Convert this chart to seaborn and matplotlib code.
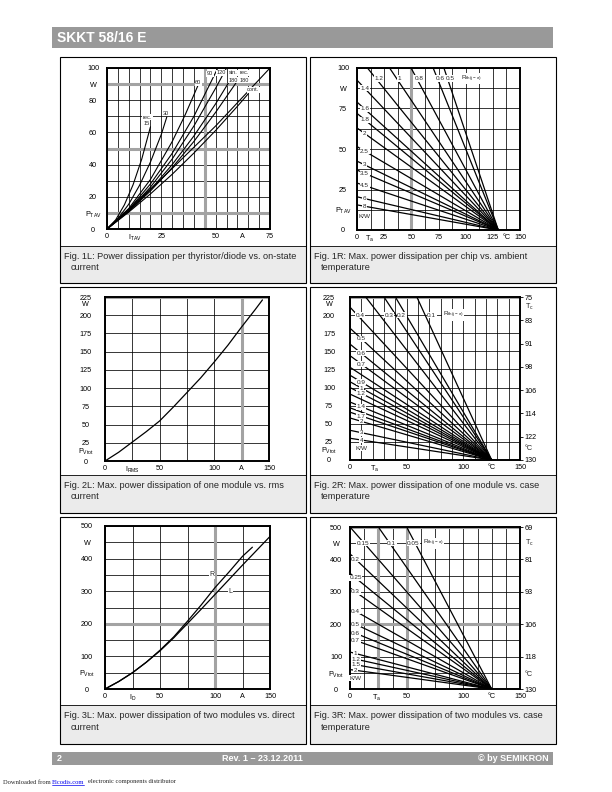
import matplotlib
matplotlib.use("Agg")
import matplotlib.pyplot as plt
from matplotlib.patches import Rectangle
import seaborn as sns

W_PX, H_PX = 612, 792

# ---------------- data ----------------
# Fig. 1L: P_TAV [W] vs I_TAV [A]
i_rec15 = [0, 4, 8, 12, 16, 20]
p_rec15 = [0, 5.7, 15, 27.5, 43.5, 63.5]
i_rec30 = [0, 5, 10, 15, 20, 25, 27.5]
p_rec30 = [0, 6.4, 15.4, 27.2, 41.6, 58.8, 69.5]
i_rec60 = [0, 10, 20, 30, 36, 42]
p_rec60 = [0, 12.7, 30.8, 54.3, 71, 89.6]
i_rec90 = [0, 10, 20, 30, 40, 51]
p_rec90 = [0, 12, 28, 47, 70, 100]
i_rec120 = [0, 10, 20, 30, 40, 50, 55]
p_rec120 = [0, 11.5, 26, 43.5, 64, 87.5, 100]
i_sin180 = [0, 10, 20, 30, 40, 50, 56]
p_sin180 = [0, 11.1, 24.4, 40, 57.8, 77.8, 91]
i_rec180 = [0, 10, 20, 30, 40, 50, 60]
p_rec180 = [0, 10.9, 23.6, 38.1, 54.4, 72.5, 92]
i_cont = [0, 10, 20, 30, 40, 50, 60, 65]
p_cont = [0, 10.5, 21.8, 34, 47.2, 61.2, 76.2, 84]
i_lim = [0, 25, 50, 75]
p_lim = [0, 31, 64, 100]

# Fig. 1R: straight lines from (0, P0) to (130 degC, 0)
rth_1r = ["0.5", "0.6", "0.8", "1", "1.2", "1.4", "1.6", "1.8", "2", "2.5", "3", "3.5", "4.5", "6", "8"]
p0_1r = [260, 217, 162, 130, 108, 92.5, 79, 72, 63, 51.5, 42.5, 37, 29, 20.5, 15.5]
tj_1r = 130

# Fig. 2L: P_Vtot vs I_RMS
i_2l = [0, 12.5, 25, 37.5, 50, 62.5, 75, 87.5, 100, 112.5, 125, 137.5, 144]
p_2l = [0, 12, 26, 40, 55, 74, 94, 114, 136, 159, 184, 208, 221]

# Fig. 2R: lines to (125 degC, 0)
p0_2r_steep = [253, 296, 331, 426]
rth_2r = ["0.4", "0.5", "0.6", "0.7", "", "0.9", "1", "1.2", "", "1.4", "", "1.7", "2", "3", "4"]
p0_2r = [211, 182, 160, 144, 128, 117, 108, 100, 91, 80, 72, 66, 58, 41, 30]
tj_2r = 125
tc_2r = ["130", "122", "114", "106", "98", "91", "83", "75"]

# Fig. 3L: P_Vtot vs I_D for R and L load
i_3l_r = [0, 12.5, 25, 37.5, 50, 62.5, 75, 87.5, 100, 112.5, 125, 134]
p_3l_r = [0, 23, 50, 82, 119, 160, 208, 258, 311, 358, 407, 435]
i_3l_l = [0, 12.5, 25, 37.5, 50, 62.5, 75, 87.5, 100, 112.5, 125, 137.5, 150]
p_3l_l = [0, 23, 50, 82, 117, 157, 201, 245, 290, 335, 380, 424, 468]

# Fig. 3R: lines to (125 degC, 0)
rth_3r = ["0.05", "0.1", "0.15", "0.2", "0.25", "0.3", "0.4", "0.5", "0.6", "0.7", "1", "1.2", "1.5", "2"]
p0_3r = [833, 625, 500, 417, 357, 312, 250, 208, 179, 156, 114, 96, 78, 60]
tj_3r = 125
tc_3r = ["130", "118", "106", "93", "81", "69"]

captions = [
    ("Fig. 1L: Power dissipation per thyristor/diode vs. on-state", "current"),
    ("Fig. 1R: Max. power dissipation per chip vs. ambient", "temperature"),
    ("Fig. 2L: Max. power dissipation of one module vs. rms", "current"),
    ("Fig. 2R: Max. power dissipation of one module vs. case", "temperature"),
    ("Fig. 3L: Max. power dissipation of two modules vs. direct", "current"),
    ("Fig. 3R: Max. power dissipation of two modules vs. case", "temperature"),
]

# ---------------- helpers ----------------
sns.set_theme(style="white")
plt.rcParams["font.family"] = ["Liberation Sans", "DejaVu Sans"]
plt.rcParams["mathtext.default"] = "regular"

GRAY = "#a3a3a3"
TXT = 5.2


def fx(x):
    return x / W_PX


def fy(y):
    return 1 - y / H_PX


def add_axes(fig, x0, y0, x1, y1):
    return fig.add_axes([fx(x0), fy(y1), (x1 - x0) / W_PX, (y1 - y0) / H_PX])


def style(ax, xlim, ylim, xgrid, ygrid, xt, xl, yt, yl, ypad, thick_x=(), thick_y=()):
    ax.set_xlim(*xlim)
    ax.set_ylim(*ylim)
    ax.xaxis.remove_overlapping_locs = False
    ax.yaxis.remove_overlapping_locs = False
    ax.set_xticks(xt)
    ax.set_xticklabels(xl)
    ax.set_yticks(yt)
    ax.set_yticklabels(yl)
    ax.set_xticks(xgrid, minor=True)
    ax.set_yticks(ygrid, minor=True)
    ax.grid(False)
    ax.grid(True, which="minor", color="black", lw=0.55)
    ax.set_axisbelow(True)
    ax.tick_params(which="both", length=0, labelsize=TXT, colors="black")
    ax.tick_params(axis="x", pad=3)
    ax.tick_params(axis="y", pad=ypad)
    for lab in ax.get_yticklabels():
        lab.set_horizontalalignment("center")
    for v in thick_x:
        ax.axvline(v, color=GRAY, lw=2.2, zorder=1)
    for v in thick_y:
        ax.axhline(v, color=GRAY, lw=2.2, zorder=1)
    for s in ax.spines.values():
        s.set_visible(True)
        s.set_linewidth(1.4)
        s.set_color("black")
    ax.set_xlabel("")
    ax.set_ylabel("")


def tag(ax, x, y, s, size=4.6, ha="center"):
    ax.text(x, y, s, fontsize=size, ha=ha, va="center", zorder=5,
            bbox=dict(facecolor="white", edgecolor="none", pad=0.4))


def line(ax, xs, ys, lw=0.9):
    sns.lineplot(x=xs, y=ys, ax=ax, color="black", linewidth=lw)


def right_axis(ax, pos, labels):
    ax2 = ax.twinx()
    ax2.set_ylim(ax.get_ylim())
    ax2.set_yticks(pos)
    ax2.set_yticklabels(labels)
    ax2.tick_params(axis="y", length=2, width=0.6, pad=1.5, labelsize=TXT, colors="black")
    ax2.grid(False)
    for s in ax2.spines.values():
        s.set_visible(False)
    return ax2


fig = plt.figure(figsize=(6.12, 7.92), dpi=100)
fig.patch.set_facecolor("white")

# header and footer bars
fig.add_artist(Rectangle((fx(52), fy(48)), fx(553) - fx(52), fy(27) - fy(48),
                         transform=fig.transFigure, facecolor="#999999", edgecolor="none"))
fig.text(fx(57), fy(37.5), "SKKT 58/16 E", color="white", fontsize=10, fontweight="bold",
         ha="left", va="center")
fig.add_artist(Rectangle((fx(52), fy(765)), fx(553) - fx(52), fy(752) - fy(765),
                         transform=fig.transFigure, facecolor="#999999", edgecolor="none"))
fig.text(fx(57), fy(758.5), "2", color="white", fontsize=6.5, fontweight="bold", va="center")
fig.text(fx(262), fy(758.5), "Rev. 1 \u2013 23.12.2011", color="white", fontsize=6.5,
         fontweight="bold", ha="center", va="center")
fig.text(fx(549), fy(758.5), "\u00a9 by SEMIKRON", color="white", fontsize=6.5,
         fontweight="bold", ha="right", va="center")
fig.text(fx(3), fy(782), "Downloaded from", fontsize=4.7, family="Liberation Serif",
         va="center")
fig.text(fx(52), fy(782), "Elcodis.com", fontsize=4.7, family="Liberation Serif", va="center",
         color="#0000ee")
fig.add_artist(plt.Line2D([fx(52), fx(84)], [fy(785), fy(785)], transform=fig.transFigure,
                          color="#0000ee", lw=0.5))
fig.text(fx(88), fy(782), "electronic components distributor", fontsize=4.7,
         family="Liberation Serif", va="center")

# panel boxes with captions
rows = [(57, 246, 283), (287, 475, 513), (517, 705, 744)]
cols = [(60, 306), (310, 556)]
k = 0
for top, cap, bot in rows:
    for left, right in cols:
        fig.add_artist(Rectangle((fx(left), fy(bot)), fx(right) - fx(left), fy(cap) - fy(bot),
                                 transform=fig.transFigure, facecolor="#ebebeb", edgecolor="none"))
        fig.add_artist(Rectangle((fx(left), fy(bot)), fx(right) - fx(left), fy(top) - fy(bot),
                                 transform=fig.transFigure, facecolor="none", edgecolor="black",
                                 lw=0.8))
        fig.add_artist(plt.Line2D([fx(left), fx(right)], [fy(cap), fy(cap)],
                                  transform=fig.transFigure, color="black", lw=0.6))
        fig.text(fx(left + 4), fy(cap + 10), captions[k][0], fontsize=6.6, va="center")
        fig.text(fx(left + 11), fy(cap + 22), captions[k][1], fontsize=6.6, va="center")
        k += 1

# ---- Fig. 1L ----
ax = add_axes(fig, 107, 68, 270, 229)
for xs, ys in [(i_rec15, p_rec15), (i_rec30, p_rec30), (i_rec60, p_rec60), (i_rec90, p_rec90),
               (i_rec120, p_rec120), (i_sin180, p_sin180), (i_rec180, p_rec180),
               (i_cont, p_cont), (i_lim, p_lim)]:
    line(ax, xs, ys, lw=0.8)
style(ax, (0, 75), (0, 100), range(0, 76, 5), range(0, 101, 10),
      [0, 13, 25, 50, 62.5, 75], ["0", "$I_{TAV}$", "25", "50", "A", "75"],
      [0, 10, 20, 40, 60, 80, 90, 100], ["0", "$P_{TAV}$", "20", "40", "60", "80", "W", "100"],
      10, thick_x=[45], thick_y=[10, 50, 90])
for s, x, y in [("rec.", 18.5, 69.5), ("15", 18.3, 65.3), ("30", 27, 72), ("60", 42, 91),
                ("90", 47.4, 96.3), ("120", 52.8, 97), ("sin.", 58, 97), ("rec.", 63, 97),
                ("180", 58, 92.5), ("180", 63, 92.5), ("cont.", 67.3, 86.5)]:
    tag(ax, x, y, s, size=4.1)

# ---- Fig. 1R ----
ax = add_axes(fig, 357, 68, 520, 230)
for p0 in p0_1r:
    line(ax, [0, tj_1r], [p0, 0])
style(ax, (0, 150), (0, 100), [i * 12.5 for i in range(13)], [i * 12.5 for i in range(9)],
      [0, 11.7, 25, 50, 75, 100, 125, 137.5, 150],
      ["0", "$T_a$", "25", "50", "75", "100", "125", "\u00b0C", "150"],
      [0, 12.5, 25, 50, 75, 87.5, 100], ["0", "$P_{TAV}$", "25", "50", "75", "W", "100"],
      10, thick_x=[50])
for s, p0 in zip(rth_1r, p0_1r):
    if p0 > 100:
        tag(ax, tj_1r * (1 - 93.5 / p0) + 2.5, 93.5, s)
    else:
        tag(ax, 7, p0 * (1 - 7 / tj_1r), s)
tag(ax, 96, 93.5, "$R_{th(j-a)}$", ha="left")
tag(ax, 7, 8.3, "K/W")

# ---- Fig. 2L ----
ax = add_axes(fig, 105, 297, 269, 461)
line(ax, i_2l, p_2l)
style(ax, (0, 150), (0, 225), range(0, 151, 25), range(0, 226, 25),
      [0, 25, 50, 100, 125, 150], ["0", "$I_{RMS}$", "50", "100", "A", "150"],
      [0, 15, 25, 50, 75, 100, 125, 150, 175, 200, 216, 225],
      ["0", "$P_{Vtot}$", "25", "50", "75", "100", "125", "150", "175", "200", "W", "225"],
      14, thick_x=[125], thick_y=[225])

# ---- Fig. 2R ----
ax = add_axes(fig, 350, 297, 520, 460)
for p0 in p0_2r_steep + p0_2r:
    line(ax, [0, tj_2r], [p0, 0])
style(ax, (0, 150), (0, 225), range(0, 151, 10), range(0, 226, 25),
      [0, 22, 50, 100, 125, 150], ["0", "$T_a$", "50", "100", "\u00b0C", "150"],
      [0, 15, 25, 50, 75, 100, 125, 150, 175, 200, 216, 225],
      ["0", "$P_{Vtot}$", "25", "50", "75", "100", "125", "150", "175", "200", "W", "225"],
      15, thick_y=[225])
for s, p0 in zip(rth_2r, p0_2r):
    if s and s != "0.4":
        tag(ax, 10, p0 * (1 - 10 / tj_2r), s)
for s, x in [("0.4", 8.8), ("0.3", 34.7), ("0.2", 45.6), ("0.1", 72)]:
    tag(ax, x, 200, s)
tag(ax, 82, 200, "$R_{th(j-a)}$", ha="left")
tag(ax, 10, 16, "K/W")
right_axis(ax, [225 * i / 7 for i in range(8)], tc_2r)
ax.text(1.03, 211, "$T_c$", transform=ax.get_yaxis_transform(), fontsize=TXT, va="center")
ax.text(1.03, 16, "\u00b0C", transform=ax.get_yaxis_transform(), fontsize=TXT, va="center")

# ---- Fig. 3L ----
ax = add_axes(fig, 105, 526, 270, 689)
line(ax, i_3l_r, p_3l_r)
line(ax, i_3l_l, p_3l_l)
style(ax, (0, 150), (0, 500), range(0, 151, 25), range(0, 501, 50),
      [0, 25, 50, 100, 125, 150], ["0", "$I_D$", "50", "100", "A", "150"],
      [0, 50, 100, 200, 300, 400, 450, 500],
      ["0", "$P_{Vtot}$", "100", "200", "300", "400", "W", "500"],
      13, thick_x=[100], thick_y=[200])
tag(ax, 97, 350, "R", size=5)
tag(ax, 114, 300, "L", size=5)

# ---- Fig. 3R ----
ax = add_axes(fig, 350, 527, 520, 689)
for p0 in p0_3r:
    line(ax, [0, tj_3r], [p0, 0])
style(ax, (0, 150), (0, 500), [i * 12.5 for i in range(13)], range(0, 501, 50),
      [0, 23.5, 50, 100, 125, 150], ["0", "$T_a$", "50", "100", "\u00b0C", "150"],
      [0, 50, 100, 200, 300, 400, 450, 500],
      ["0", "$P_{Vtot}$", "100", "200", "300", "400", "W", "500"],
      10, thick_x=[25, 50], thick_y=[200, 500])
for s, p0 in zip(rth_3r, p0_3r):
    if p0 < 450:
        tag(ax, 5, p0 * (1 - 5 / tj_3r), s)
for s, x in [("0.15", 11.8), ("0.1", 36.8), ("0.05", 56)]:
    tag(ax, x, 450, s)
tag(ax, 64, 450, "$R_{th(j-a)}$", ha="left")
tag(ax, 5, 33, "K/W")
right_axis(ax, [0, 100, 200, 300, 400, 500], tc_3r)
ax.text(1.03, 450, "$T_c$", transform=ax.get_yaxis_transform(), fontsize=TXT, va="center")
ax.text(1.03, 45, "\u00b0C", transform=ax.get_yaxis_transform(), fontsize=TXT, va="center")

fig.savefig("out.png", dpi=100)
